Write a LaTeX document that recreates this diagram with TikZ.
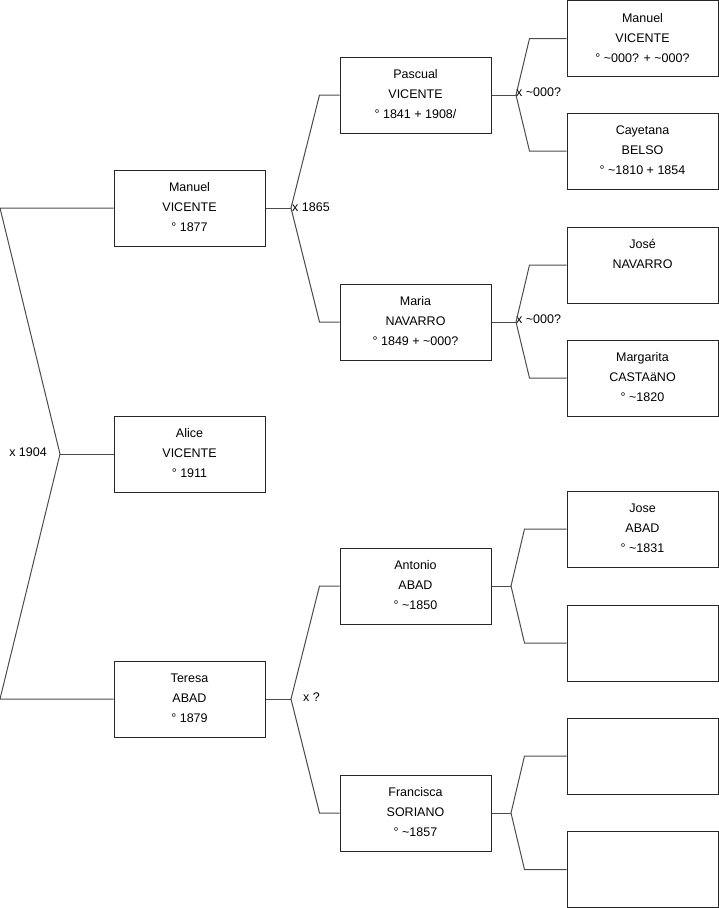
\documentclass[tikz,border=0pt]{standalone}
\usepackage{fontspec}
\setmainfont{Liberation Sans}
\newcommand{\tld}{\textasciitilde}
\begin{document}
\begin{tikzpicture}[x=1pt,y=-1pt,
  person/.style={draw=black!85, line width=1pt, minimum width=151pt, minimum height=76pt, inner sep=0pt},
  conn/.style={draw=black!70, line width=1pt},
  lbl/.style={font=\fontsize{12.5}{14}\selectfont, inner sep=1pt}]
\tikzset{pt/.style={label={[anchor=north,yshift=-9.5pt,align=center,font=\fontsize{12.5}{20}\selectfont,inner sep=3.33pt]north:#1}}}
\useasboundingbox (0,0) rectangle (719,908);
% generation 1
\node[person,pt={Manuel\\VICENTE\\° 1877}] (manuel) at (189.5,208) {};
\node[person,pt={Alice\\VICENTE\\° 1911}] (alice) at (189.5,454) {};
\node[person,pt={Teresa\\ABAD\\° 1879}] (teresa) at (189.5,699) {};
% generation 2
\node[person,pt={Pascual\\VICENTE\\° 1841 + 1908/}] (pascual) at (415.5,95) {};
\node[person,pt={Maria\\NAVARRO\\° 1849 + \tld000?}] (maria) at (415.5,322) {};
\node[person,pt={Antonio\\ABAD\\° \tld1850}] (antonio) at (415.5,586) {};
\node[person,pt={Francisca\\SORIANO\\° \tld1857}] (francisca) at (415.5,813) {};
% generation 3
\node[person,pt={Manuel\\VICENTE\\° \tld000? + \tld000?}] (manuel2) at (642.5,38.5) {};
\node[person,pt={Cayetana\\BELSO\\° \tld1810 + 1854}] (cayetana) at (642.5,151) {};
\node[person,pt={José\\NAVARRO}] (jose) at (642.5,265) {};
\node[person,pt={Margarita\\CASTAäNO\\° \tld1820}] (margarita) at (642.5,378) {};
\node[person,pt={Jose\\ABAD\\° \tld1831}] (joseabad) at (642.5,529) {};
\node[person] (e1) at (642.5,643) {};
\node[person] (e2) at (642.5,756) {};
\node[person] (e3) at (642.5,869.5) {};
% junctions
\coordinate (l1) at (0,208);
\coordinate (j0) at (60,454);
\coordinate (l3) at (0,699);
\coordinate (jM) at (291,208);
\coordinate (jT) at (291,699);
\coordinate (jA) at (516,95);
\coordinate (jB) at (516,322);
\coordinate (jC) at (511,586);
\coordinate (jD) at (511,813);
% left bracket
\draw[conn] (manuel.west) -- (l1) -- (j0) -- (l3) -- (teresa.west);
\draw[conn] (j0) -- (alice.west);
\node[lbl, anchor=east] (m0) at (48,452) {x 1904};
% Manuel -> parents
\draw[conn] (manuel.east) -- (jM);
\draw[conn] (pascual.west) -- ([xshift=-20pt]pascual.west) -- (jM) -- ([xshift=-20pt]maria.west) -- (maria.west);
\node[lbl, anchor=west] (m1) at (291,207) {x 1865};
% Teresa -> parents
\draw[conn] (teresa.east) -- (jT);
\draw[conn] (antonio.west) -- ([xshift=-20pt]antonio.west) -- (jT) -- ([xshift=-20pt]francisca.west) -- (francisca.west);
\node[lbl, anchor=west] (m2) at (302,697) {x ?};
% Pascual -> parents
\draw[conn] (pascual.east) -- (jA);
\draw[conn] (manuel2.west) -- ([xshift=-37pt]manuel2.west) -- (jA) -- ([xshift=-37pt]cayetana.west) -- (cayetana.west);
\node[lbl, anchor=west] (m3) at (515,92) {x \tld000?};
\node[lbl, anchor=west] (m4) at (515,319) {x \tld000?};
% Maria -> parents
\draw[conn] (maria.east) -- (jB);
\draw[conn] (jose.west) -- ([xshift=-37pt]jose.west) -- (jB) -- ([xshift=-37pt]margarita.west) -- (margarita.west);
% Antonio -> parents
\draw[conn] (antonio.east) -- (jC);
\draw[conn] (joseabad.west) -- ([xshift=-42pt]joseabad.west) -- (jC) -- ([xshift=-42pt]e1.west) -- (e1.west);
% Francisca -> parents
\draw[conn] (francisca.east) -- (jD);
\draw[conn] (e2.west) -- ([xshift=-42pt]e2.west) -- (jD) -- ([xshift=-42pt]e3.west) -- (e3.west);
\end{tikzpicture}
\end{document}
